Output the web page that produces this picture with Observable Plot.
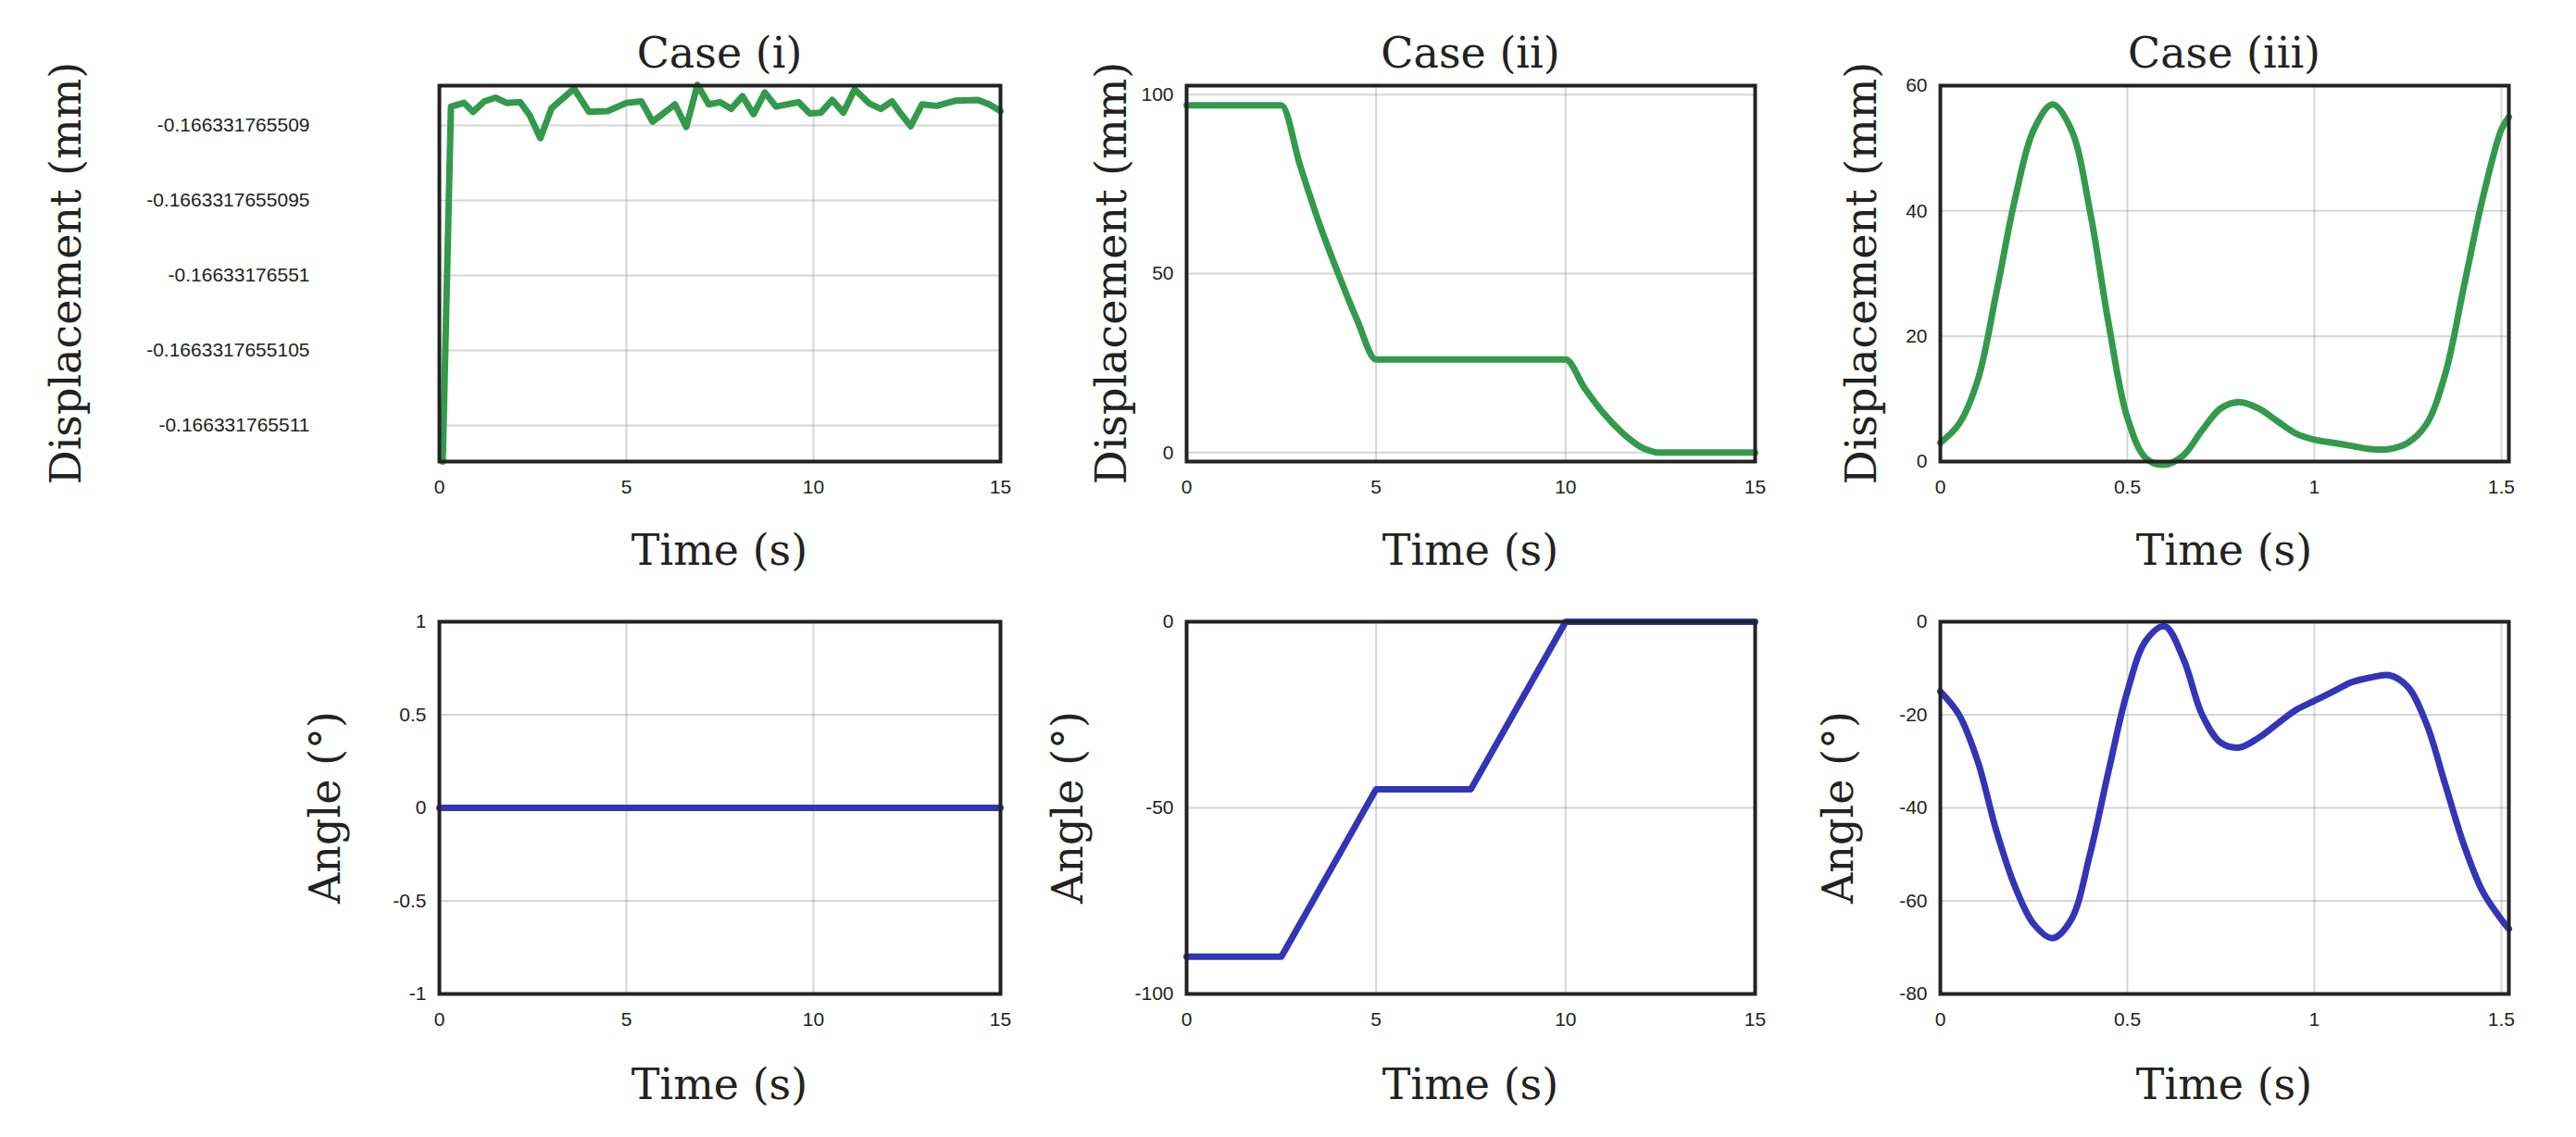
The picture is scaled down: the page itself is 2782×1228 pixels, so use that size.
<!DOCTYPE html>
<html><head><meta charset="utf-8">
<script src="https://cdn.jsdelivr.net/npm/d3@7"></script>
<script src="https://cdn.jsdelivr.net/npm/@observablehq/plot@0.6"></script>
<style>
body{margin:0;background:#fff;}
#page{position:relative;width:2782px;height:1228px;overflow:hidden;}
.p{position:absolute;}
.lab{position:absolute;font-family:"DejaVu Serif","Liberation Serif",serif;color:#222;font-size:46px;white-space:nowrap;transform:translate(-50%,-50%);}
.rot{transform:translate(-50%,-50%) rotate(-90deg);}
</style></head><body><div id="page"></div>
<script>
// Case (i) displacement (in tick-index units; tick labels below)
const t1 = [0.09,0.31,0.66,0.9,1.2,1.5,1.8,2.16,2.41,2.7,3.0,3.6,4.0,4.5,5.0,5.4,5.7,6.3,6.6,6.9,7.2,7.5,7.8,8.1,8.4,8.7,9.0,9.6,9.9,10.2,10.5,10.8,11.1,11.5,11.8,12.1,12.3,12.6,12.9,13.3,13.8,14.4,14.7,15.0];
const d1 = [-0.48,4.25,4.30,4.18,4.32,4.37,4.30,4.31,4.14,3.83,4.23,4.49,4.18,4.19,4.30,4.32,4.05,4.28,3.98,4.54,4.28,4.31,4.22,4.39,4.15,4.44,4.25,4.31,4.16,4.17,4.34,4.17,4.48,4.29,4.22,4.32,4.18,3.99,4.28,4.26,4.33,4.34,4.28,4.19];
const yLabels1 = ["-0.166331765511","-0.1663317655105","-0.16633176551","-0.1663317655095","-0.166331765509"];
// Case (i) angle
const t1a = [0, 15];
const a1 = [0, 0];
// Case (ii)
const t2 = [0,2.5,3,3.5,4,4.5,5,10,10.5,11,11.5,12,12.5,15];
const d2 = [97,97,80,64,50,37,26,26,18,11,5.5,1.5,0,0];
const t2a = [0,2.5,5,7.5,10,15];
const a2 = [-90,-90,-45,-45,0,0];
// Case (iii)
const t3 = [0,0.05,0.1,0.15,0.2,0.25,0.3,0.35,0.4,0.45,0.5,0.55,0.6,0.65,0.7,0.75,0.8,0.85,0.9,0.95,1.0,1.05,1.1,1.15,1.2,1.25,1.3,1.35,1.4,1.45,1.5,1.52];
const d3 = [3,6,13,27,42,53,57,53,40,22,7,0.5,-0.5,1,5,8.5,9.5,8.5,6.5,4.5,3.5,3,2.5,2,2,3,6,14,28,42,53,55];
const a3 = [-15,-20,-30,-45,-57,-65,-68,-64,-50,-32,-15,-4,-1,-8,-20,-26,-27,-25,-22,-19,-17,-15,-13,-12,-11.5,-14,-22,-35,-48,-58,-64,-66];

const GREEN = "#339a4c", BLUE = "#3434b8";
const page = document.getElementById("page");
const ML = 440, MT = 40, MR = 40, MB = 60;

function panel(o){
  const w = o.right - o.left, h = o.bottom - o.top;
  const data = o.x.map((x,i)=>({x, y:o.y[i]}));
  const svg = Plot.plot({
    width: w+ML+MR, height: h+MT+MB,
    marginLeft: ML, marginTop: MT, marginRight: MR, marginBottom: MB,
    style:{fontFamily:"'Liberation Sans',Arial,sans-serif", fontSize:"21px", color:"#222", background:"transparent", overflow:"visible"},
    x:{domain:o.xd, ticks:o.xt, tickFormat:o.xf||(d=>String(d)), tickSize:0, tickPadding:20, label:null},
    y:{domain:o.yd, ticks:o.yt, tickFormat:o.yf||(d=>String(d)), tickSize:0, tickPadding:o.yp||14, label:null},
    marks:[
      Plot.gridX(o.xt,{stroke:"#999", strokeOpacity:0.4, strokeWidth:2}),
      Plot.gridY(o.yt,{stroke:"#999", strokeOpacity:0.4, strokeWidth:2}),
      Plot.lineY(data,{x:"x", y:"y", stroke:o.c, strokeWidth:7, curve: o.curve||"linear"}),
      Plot.frame({stroke:"#222", strokeWidth:4})
    ]
  });
  svg.classList.add("p");
  svg.style.left = (o.left-ML)+"px";
  svg.style.top = (o.top-MT)+"px";
  page.appendChild(svg);
}
function label(text,x,y,rot){
  const d=document.createElement("div");
  d.className="lab"+(rot?" rot":"");
  d.textContent=text; d.style.left=x+"px"; d.style.top=y+"px";
  page.appendChild(d);
}
const cols=[[474,1080],[1281,1895],[2095,2709]];
const rows=[[92,498],[671,1073]];
panel({left:cols[0][0],right:cols[0][1],top:rows[0][0],bottom:rows[0][1],x:t1,y:d1,c:GREEN,
  xd:[0,15],xt:[0,5,10,15],yd:[-0.48,4.53],yt:[0,1,2,3,4],yf:d=>yLabels1[d],yp:140});
panel({left:cols[1][0],right:cols[1][1],top:rows[0][0],bottom:rows[0][1],x:t2,y:d2,c:GREEN,
  xd:[0,15],xt:[0,5,10,15],yd:[-2.5,102.5],yt:[0,50,100],curve:"monotone-x"});
panel({left:cols[2][0],right:cols[2][1],top:rows[0][0],bottom:rows[0][1],x:t3,y:d3,c:GREEN,
  xd:[0,1.52],xt:[0,0.5,1,1.5],yd:[0,60],yt:[0,20,40,60],curve:"catmull-rom"});
panel({left:cols[0][0],right:cols[0][1],top:rows[1][0],bottom:rows[1][1],x:t1a,y:a1,c:BLUE,
  xd:[0,15],xt:[0,5,10,15],yd:[-1,1],yt:[-1,-0.5,0,0.5,1]});
panel({left:cols[1][0],right:cols[1][1],top:rows[1][0],bottom:rows[1][1],x:t2a,y:a2,c:BLUE,
  xd:[0,15],xt:[0,5,10,15],yd:[-100,0],yt:[-100,-50,0]});
panel({left:cols[2][0],right:cols[2][1],top:rows[1][0],bottom:rows[1][1],x:t3,y:a3,c:BLUE,
  xd:[0,1.52],xt:[0,0.5,1,1.5],yd:[-80,0],yt:[-80,-60,-40,-20,0],curve:"catmull-rom"});

label("Case (i)",777,57); label("Case (ii)",1588,57); label("Case (iii)",2402,57);
label("Time (s)",777,594); label("Time (s)",1588,594); label("Time (s)",2402,594);
label("Time (s)",777,1171); label("Time (s)",1588,1171); label("Time (s)",2402,1171);
label("Displacement (mm)",71,295,true); label("Displacement (mm)",1200,295,true); label("Displacement (mm)",2010,295,true);
label("Angle (°)",351,872,true); label("Angle (°)",1153,872,true); label("Angle (°)",1985,872,true);
</script></body></html>
